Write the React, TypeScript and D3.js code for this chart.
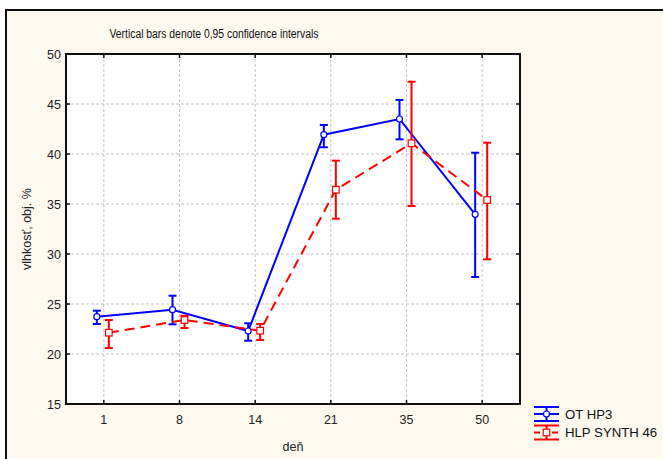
import React from "react";
import * as d3 from "d3";

const days = ["1", "8", "14", "21", "35", "50"];
const yTicks = [15, 20, 25, 30, 35, 40, 45, 50];

const seriesNames = ["OT HP3", "HLP SYNTH 46"];
const otMean = [23.73, 24.43, 22.3, 41.93, 43.5, 33.97];
const otLow = [23.0, 22.97, 21.33, 40.67, 41.47, 27.7];
const otHigh = [24.33, 25.83, 23.07, 42.9, 45.4, 40.13];
const hlpMean = [22.13, 23.4, 22.33, 36.43, 41.07, 35.4];
const hlpLow = [20.6, 22.6, 21.4, 33.53, 34.8, 29.47];
const hlpHigh = [23.4, 23.83, 23.0, 39.33, 47.23, 41.13];

const W = 663;
const H = 459;
const L = 66, R = 520, T = 54, B = 404;
const FONT = "'Liberation Sans', Arial, sans-serif";

export default function App() {
  const x = d3.scalePoint<string>().domain(days).range([L, R]).padding(0.5);
  const y = d3.scaleLinear().domain([15, 50]).range([B, T]);

  const series = [
    { name: seriesNames[0], mean: otMean, low: otLow, high: otHigh, color: "#0000ff", dx: -7, dash: undefined as string | undefined, shape: "circle" },
    { name: seriesNames[1], mean: hlpMean, low: hlpLow, high: hlpHigh, color: "#ff0000", dx: 5, dash: "10,6", shape: "square" },
  ];

  const line = d3.line<[number, number]>().x((d) => d[0]).y((d) => d[1]);

  return (
    <svg width={W} height={H} style={{ position: "absolute", left: 0, top: 0 }}>
      <rect x={0} y={0} width={W} height={H} fill="#ffffff" />
      <rect x={6} y={10} width={W + 10} height={H + 10} fill="#fdf9ee" stroke="#111" strokeWidth={2} />
      <text x={214} y={37.5} textAnchor="middle" fontFamily={FONT} fontSize={12.3} fill="#111" textLength={209} lengthAdjust="spacingAndGlyphs">
        Vertical bars denote 0,95 confidence intervals
      </text>
      <rect x={L} y={T} width={R - L} height={B - T} fill="#ffffff" />
      {/* grid */}
      {yTicks.slice(1, -1).map((t) => (
        <line key={"gy" + t} x1={L} x2={R} y1={y(t)} y2={y(t)} stroke="#c4c4c4" strokeWidth={1} strokeDasharray="3,2" />
      ))}
      {days.map((d) => (
        <line key={"gx" + d} x1={x(d)!} x2={x(d)!} y1={T} y2={B} stroke="#c4c4c4" strokeWidth={1} strokeDasharray="3,2" />
      ))}
      {/* ticks */}
      {yTicks.map((t) => (
        <g key={"ty" + t}>
          <line x1={L} x2={L + 4} y1={y(t)} y2={y(t)} stroke="#111" strokeWidth={1.5} />
          <line x1={R} x2={R - 4} y1={y(t)} y2={y(t)} stroke="#111" strokeWidth={1.5} />
          <text x={61} y={y(t) + 4.5} textAnchor="end" fontFamily={FONT} fontSize={12.5} fill="#222">
            {t}
          </text>
        </g>
      ))}
      {days.map((d) => (
        <g key={"tx" + d}>
          <line x1={x(d)!} x2={x(d)!} y1={B} y2={B - 4} stroke="#111" strokeWidth={1.5} />
          <line x1={x(d)!} x2={x(d)!} y1={T} y2={T + 4} stroke="#111" strokeWidth={1.5} />
          <text x={x(d)!} y={424} textAnchor="middle" fontFamily={FONT} fontSize={12.5} fill="#222">
            {d}
          </text>
        </g>
      ))}
      <rect x={L} y={T} width={R - L} height={B - T} fill="none" stroke="#111" strokeWidth={2} />
      <text x={(L + R) / 2} y={451} textAnchor="middle" fontFamily={FONT} fontSize={12.5} fill="#222">
        deň
      </text>
      <text
        transform={`translate(31, ${(T + B) / 2}) rotate(-90)`}
        textAnchor="middle"
        fontFamily={FONT}
        fontSize={12.5}
        fill="#222"
      >
        vlhkosť, obj. %
      </text>
      {/* series */}
      {series.map((s) => {
        const pts: [number, number][] = days.map((d, i) => [x(d)! + s.dx, y(s.mean[i])]);
        return (
          <g key={s.name}>
            <path d={line(pts)!} fill="none" stroke={s.color} strokeWidth={2} strokeDasharray={s.dash} />
            {days.map((d, i) => {
              const cx = x(d)! + s.dx;
              return (
                <g key={d} stroke={s.color} strokeWidth={2}>
                  <line x1={cx} x2={cx} y1={y(s.low[i])} y2={y(s.high[i])} />
                  <line x1={cx - 4} x2={cx + 4} y1={y(s.low[i])} y2={y(s.low[i])} />
                  <line x1={cx - 4} x2={cx + 4} y1={y(s.high[i])} y2={y(s.high[i])} />
                </g>
              );
            })}
            {pts.map((p, i) =>
              s.shape === "circle" ? (
                <circle key={i} cx={p[0]} cy={p[1]} r={3} fill="#fff" stroke={s.color} strokeWidth={1.2} />
              ) : (
                <rect key={i} x={p[0] - 3.3} y={p[1] - 3.3} width={6.6} height={6.6} fill="#fff" stroke={s.color} strokeWidth={1.2} />
              )
            )}
          </g>
        );
      })}
      {/* legend */}
      {series.map((s, i) => {
        const cy = 414 + i * 18.5;
        const x0 = 534, x1 = 559, cx = (x0 + x1) / 2;
        return (
          <g key={"lg" + s.name}>
            <g stroke={s.color} strokeWidth={2}>
              <line x1={x0} x2={x1} y1={cy - 7} y2={cy - 7} />
              <line x1={x0} x2={x1} y1={cy + 7} y2={cy + 7} />
              <line x1={cx} x2={cx} y1={cy - 7} y2={cy + 7} />
              <line x1={x0} x2={x1} y1={cy} y2={cy} strokeDasharray={s.dash ? "6,3" : undefined} />
            </g>
            {s.shape === "circle" ? (
              <circle cx={cx} cy={cy} r={3} fill="#fff" stroke={s.color} strokeWidth={1.2} />
            ) : (
              <rect x={cx - 3.3} y={cy - 3.3} width={6.6} height={6.6} fill="#fff" stroke={s.color} strokeWidth={1.2} />
            )}
            <text x={565} y={cy + 4.5} fontFamily={FONT} fontSize={13.2} fill="#111">
              {s.name}
            </text>
          </g>
        );
      })}
    </svg>
  );
}
